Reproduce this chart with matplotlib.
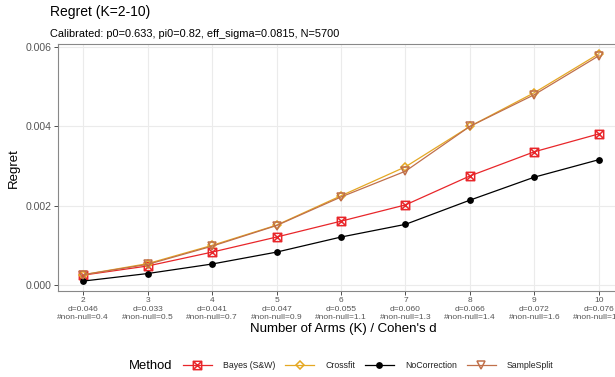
import matplotlib
matplotlib.use("Agg")
import matplotlib.pyplot as plt
from matplotlib.path import Path
import numpy as np

plt.rcParams['font.family'] = ['Liberation Sans', 'DejaVu Sans']

K = [2, 3, 4, 5, 6, 7, 8, 9, 10]
cohen_d = ["0.046", "0.033", "0.041", "0.047", "0.055", "0.060", "0.066", "0.072", "0.076"]
non_null = ["0.4", "0.5", "0.7", "0.9", "1.1", "1.3", "1.4", "1.6", "1.8"]

bayes = [0.00025, 0.00048, 0.00083, 0.00121, 0.00161, 0.00202, 0.00275, 0.00336, 0.00381]
crossfit = [0.00026, 0.00054, 0.00100, 0.00151, 0.00225, 0.00298, 0.00400, 0.00485, 0.00583]
nocorr = [0.00010, 0.00029, 0.00053, 0.00083, 0.00121, 0.00153, 0.00214, 0.00272, 0.00316]
samplesplit = [0.00026, 0.00052, 0.00098, 0.00150, 0.00222, 0.00287, 0.00400, 0.00480, 0.00578]

W, H = 615, 377
fig = plt.figure(figsize=(W/100, H/100), dpi=100)

L, R, T, B = 58, 624, 44, 291
ax = fig.add_axes([L/W, 1 - B/H, (R-L)/W, (B-T)/H])

box_x = Path([(-1, -1), (1, -1), (1, 1), (-1, 1), (-1, -1),
              (-1, -1), (1, 1), (-1, 1), (1, -1)],
             [Path.MOVETO, Path.LINETO, Path.LINETO, Path.LINETO, Path.CLOSEPOLY,
              Path.MOVETO, Path.LINETO, Path.MOVETO, Path.LINETO])

c_bayes = "#E8262A"
c_cross = "#E5A823"
c_noc = "#000000"
c_ss = "#C0704A"

series = [
    ("Bayes (S&W)", bayes, c_bayes, box_x, 6.0, 'none'),
    ("Crossfit", crossfit, c_cross, 'D', 4.3, 'none'),
    ("NoCorrection", nocorr, c_noc, 'o', 3.8, c_noc),
    ("SampleSplit", samplesplit, c_ss, 'v', 5.5, 'none'),
]
handles = []
for name, vals, col, mk, ms, mfc in series:
    h, = ax.plot(K, vals, color=col, lw=0.9, marker=mk, ms=ms, mfc=mfc,
                 mec=col, mew=1.1, label=name, zorder=3)
    handles.append(h)

ax.set_xlim(1.61, 10.39)
ax.set_ylim(-0.00015, 0.006076)
ax.set_yticks([0, 0.002, 0.004, 0.006])
ax.set_yticklabels(["0.000", "0.002", "0.004", "0.006"])
ax.set_xticks(K)
ax.set_xticklabels([f"{k}\nd={d}\n#non-null={n}" for k, d, n in zip(K, cohen_d, non_null)],
                   fontsize=6.0, color="#555555", linespacing=1.3)
ax.tick_params(axis='y', labelsize=7.6, labelcolor="#555555", length=3, color="#333333",
               width=0.6, pad=1.5)
ax.tick_params(axis='x', length=3, color="#333333", width=0.6, pad=1.5)
ax.grid(True, color="#EBEBEB", lw=0.8, zorder=0)
ax.set_axisbelow(True)
for s in ax.spines.values():
    s.set_color("#888888")
    s.set_linewidth(0.8)

fig.text(50/W, 1 - 12/H, "Regret (K=2-10)", fontsize=10, va='center', ha='left')
fig.text(50/W, 1 - 34/H, "Calibrated: p0=0.633, pi0=0.82, eff_sigma=0.0815, N=5700",
         fontsize=7.9, va='center', ha='left')
fig.text(14/W, 1 - 168/H, "Regret", fontsize=9.5, rotation=90, va='center', ha='center')
fig.text(343/W, 1 - 329/H, "Number of Arms (K) / Cohen's d", fontsize=9.5,
         va='center', ha='center')

fig.text(129/W, 1 - 366/H, "Method", fontsize=9.4, va='center', ha='left')
leg = fig.legend(handles=handles, loc='center left', bbox_to_anchor=(183/W, 1 - 366/H),
                 ncol=4, frameon=False, fontsize=6.3, handlelength=3.3, handletextpad=1.25,
                 columnspacing=1.15, borderaxespad=0, borderpad=0)
for t in leg.get_texts():
    t.set_color("#222222")

fig.savefig("out.png", dpi=100)
